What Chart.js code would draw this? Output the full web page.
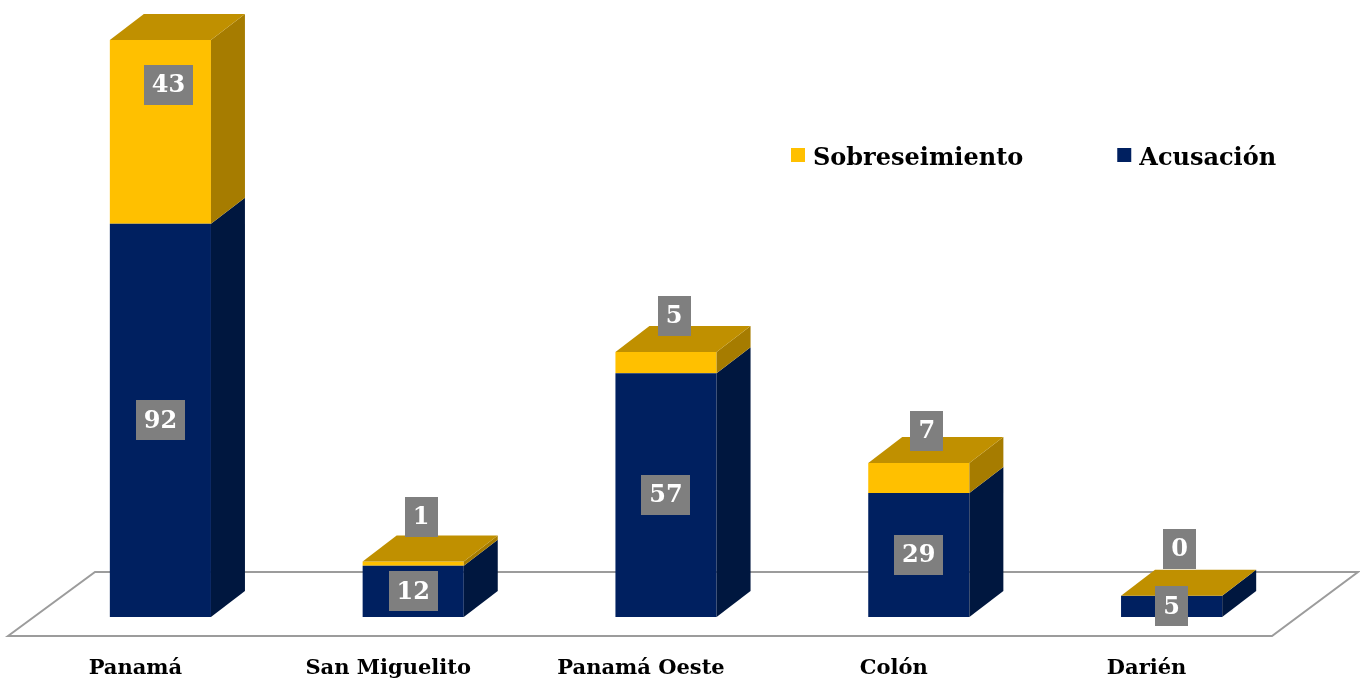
<!DOCTYPE html>
<html>
<head>
<meta charset="utf-8">
<script src="https://cdn.jsdelivr.net/npm/chart.js@4/dist/chart.umd.min.js"></script>
<style>
  html, body { margin: 0; padding: 0; background: #fff; }
  #wrap { width: 1360px; height: 684px; }
</style>
</head>
<body>
<div id="wrap"><canvas id="chart" width="1360" height="684"></canvas></div>
<script>
// datos del gráfico
const categories = ['Panamá', 'San Miguelito', 'Panamá Oeste', 'Colón', 'Darién'];
const acusacion = [92, 12, 57, 29, 5];
const sobreseimiento = [43, 1, 5, 7, 0];
const seriesNames = ['Acusación', 'Sobreseimiento'];

const FONT = '"DejaVu Serif", "Liberation Serif", serif';
const DEPTH_X = 34;
const DEPTH_Y = 26;

// colores: frente, lado, tapa
const faceColors = [
    { front: '#002060', side: '#00173F', top: '#001A4D' },
    { front: '#FFC000', side: '#A67C00', top: '#C09000' }
];

/**
 * piso en perspectiva
 */
const floorPlugin = {
    id: 'floor',
    beforeDatasetsDraw: function(chart) {
        const ctx = chart.ctx;
        const a = chart.chartArea;
        ctx.save();
        ctx.beginPath();
        ctx.moveTo(a.left - 26, a.bottom + 19);
        ctx.lineTo(a.left + 61, a.bottom - 45);
        ctx.lineTo(a.right + 60, a.bottom - 45);
        ctx.lineTo(a.right - 26, a.bottom + 19);
        ctx.closePath();
        ctx.strokeStyle = '#9C9C9C';
        ctx.lineWidth = 2;
        ctx.stroke();
        ctx.restore();
    }
};

/**
 * caras laterales y superiores (efecto 3D) + etiquetas
 */
const boxPlugin = {
    id: 'box3d',
    afterDatasetsDraw: function(chart) {
        const ctx = chart.ctx;
        const last = chart.data.datasets.length - 1;
        ctx.save();

        chart.data.datasets.forEach((ds, di) => {
            const meta = chart.getDatasetMeta(di);
            meta.data.forEach(bar => {
                const p = bar.getProps(['x', 'y', 'base', 'width'], true);
                const left = p.x - p.width / 2;
                const right = p.x + p.width / 2;
                const top = Math.min(p.y, p.base);
                const bottom = Math.max(p.y, p.base);

                // lado derecho
                if (bottom - top > 0) {
                    ctx.beginPath();
                    ctx.moveTo(right, bottom);
                    ctx.lineTo(right, top);
                    ctx.lineTo(right + DEPTH_X, top - DEPTH_Y);
                    ctx.lineTo(right + DEPTH_X, bottom - DEPTH_Y);
                    ctx.closePath();
                    ctx.fillStyle = faceColors[di].side;
                    ctx.fill();
                }

                // tapa superior solo para el último segmento
                if (di === last) {
                    ctx.beginPath();
                    ctx.moveTo(left, top);
                    ctx.lineTo(left + DEPTH_X, top - DEPTH_Y);
                    ctx.lineTo(right + DEPTH_X, top - DEPTH_Y);
                    ctx.lineTo(right, top);
                    ctx.closePath();
                    ctx.fillStyle = faceColors[di].top;
                    ctx.fill();
                }
            });
        });

        // etiquetas de valor
        ctx.font = 'bold 24px ' + FONT;
        ctx.textAlign = 'center';
        ctx.textBaseline = 'middle';
        chart.data.datasets.forEach((ds, di) => {
            const meta = chart.getDatasetMeta(di);
            meta.data.forEach((bar, i) => {
                const p = bar.getProps(['x', 'y', 'base'], true);
                const text = String(ds.data[i]);
                let cx = p.x;
                let cy = (p.y + p.base) / 2;
                if (di === last) {
                    cx += 8;
                    cy -= 47;
                }
                const w = ctx.measureText(text).width + 16;
                const h = 40;
                ctx.fillStyle = '#7F7F7F';
                ctx.fillRect(Math.round(cx - w / 2), Math.round(cy - h / 2), Math.round(w), h);
                ctx.fillStyle = '#FFFFFF';
                ctx.fillText(text, cx, cy + 1);
            });
        });

        ctx.restore();
    }
};

/**
 * leyenda
 */
const legendPlugin = {
    id: 'legend3d',
    afterDraw: function(chart) {
        const ctx = chart.ctx;
        ctx.save();
        ctx.font = 'bold 24px ' + FONT;
        ctx.textBaseline = 'alphabetic';
        ctx.textAlign = 'left';
        let x = 791;
        const items = chart.data.datasets.map(ds => ({ label: ds.label, color: ds.backgroundColor })).reverse();
        items.forEach(item => {
            ctx.fillStyle = item.color;
            ctx.fillRect(x, 148, 14, 14);
            ctx.fillStyle = '#000000';
            ctx.fillText(item.label, x + 22, 165);
            x += 22 + ctx.measureText(item.label).width + 94;
        });
        ctx.restore();
    }
};

new Chart(document.getElementById('chart').getContext('2d'), {
    type: 'bar',
    data: {
        labels: categories,
        datasets: [
            { label: seriesNames[0], data: acusacion, backgroundColor: faceColors[0].front },
            { label: seriesNames[1], data: sobreseimiento, backgroundColor: faceColors[1].front }
        ]
    },
    options: {
        responsive: false,
        animation: false,
        devicePixelRatio: 1,
        layout: { padding: { left: 34, right: 62, top: 10, bottom: 0 } },
        datasets: {
            bar: { categoryPercentage: 0.8, barPercentage: 0.5 }
        },
        scales: {
            x: {
                stacked: true,
                grid: { display: false, drawTicks: false },
                border: { display: false },
                ticks: {
                    color: '#000000',
                    font: { family: FONT, size: 21, weight: 'bold' },
                    padding: 39,
                    labelOffset: -25,
                    maxRotation: 0,
                    autoSkip: false
                },
                afterFit: function(scale) { scale.height = 67; }
            },
            y: {
                stacked: true,
                display: false,
                min: 0,
                max: 142
            }
        },
        plugins: {
            legend: { display: false },
            tooltip: { enabled: false }
        }
    },
    plugins: [floorPlugin, boxPlugin, legendPlugin]
});
</script>
</body>
</html>
